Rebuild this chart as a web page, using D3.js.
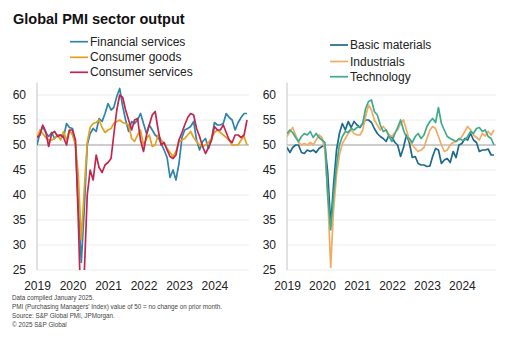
<!DOCTYPE html>
<html><head><meta charset="utf-8">
<script src="https://cdn.jsdelivr.net/npm/d3@7"></script>
<style>body{margin:0;background:#fff;} svg{display:block;font-family:"Liberation Sans",Arial,sans-serif;}</style>
</head><body>
<svg id="c" width="513" height="355"></svg>
<script>
const years = ["2019","2020","2021","2022","2023","2024"];
const yTicks = [25,30,35,40,45,50,55,60];

const financialServices = [
 50,52.5,53.7,52.5,51.7,52.5,51.3,52,52,51.5,54.3,53.5,
 53.3,50,38,26.5,37,50,52.3,53.3,52.7,55.3,54.7,56.3,
 58.3,57,57.5,59.7,61.3,57.7,55,52.7,54.7,54.3,55,56.3,
 54.3,52.3,54,53,52,51.5,50.3,49,47.5,43.5,45,43,
 46.3,51.5,53,53.3,53.7,54.7,51,49,50.7,51.3,49.3,51,
 54.5,54,54,54.3,56.3,55.5,55,53,54.5,55.5,56.3,56.3];
const consumerGoods = [
 51.5,53,52.3,51.5,51,51,51.3,52,51,52.7,51,53,
 52,50,44,31,41,50.5,53.5,54.3,54.5,55,53.5,52.5,
 53,53.3,54.3,54.7,55,54.5,54.3,54,51.3,50.7,52,53,
 50,51.3,52,49.7,50,52,51,50.3,49.3,48.5,47.7,48.7,
 50.7,51,51.3,52,52.7,51.5,50.7,50,49.7,50,50.5,51.3,
 52.5,53,52.5,52,51.5,51,50,50,50,51,51.7,50];
const consumerServices = [
 51.5,52,54,52.7,49.7,52.3,52.7,51.7,52,51.5,50,53,
 53,51,35,14,24,40,45,43,48,45.5,44.5,46,
 46.5,47.3,52,57,60,59.5,57,55,53,55,55.3,51,
 48.7,52,54,56,56.7,53,50,50.5,49,47.7,47.3,48,
 51,52.5,54,55.5,56.3,56,53.3,51.7,49.7,48.3,49.5,51,
 53.7,53,53,54,52.5,51,50.5,52,52,51.5,52,55];

const basicMaterials = [
 49.5,48.5,49.5,50,50,48.5,48.3,49,48.7,49,48.5,49.3,
 49.7,50,44.5,34,42,49,52.3,54.3,53,54.7,53.5,54.7,
 54,53.5,54.3,55,55,54.5,53.3,52.3,51.7,51.3,50.7,52,
 51.5,50.5,50,47.7,49.5,52,50.5,47.5,47.7,46.3,46,46,
 45.7,45.8,47.7,49.3,49,46.3,47,47.3,46.5,48.7,47.5,50,
 50.3,51.3,51,52.3,51,50.5,48.7,49,49,49.2,48,48];
const industrials = [
 51.7,52.7,53.5,52,50.5,50,50.3,50,50.5,50,51,52,
 51.5,49,40,25.5,37,44,48,50.3,51.3,52.3,53,52.3,
 52,52,53,55.7,58,57,55,54,53,53.7,53,52,
 51.7,52.5,53,54.3,55,53,51,50,49.3,48.7,49,49.5,
 51.3,53,53.7,53.3,51.7,50,48.7,49,50,50.5,50.7,51,
 51.7,52.7,53.7,53,52,51.5,51,52.3,51.8,52.7,52,53];
const technology = [
 52.3,53,52.5,51.5,50.7,51.7,52.3,52,52.7,51.5,52.3,51.5,
 51,50.5,40,33,40,46,50,51.7,52.7,52.5,53.3,53,
 53.5,53.7,54.3,57.3,58.7,59,56.7,56,54,52.7,53,51.7,
 50.7,52.3,53.5,55,53,51.5,51.3,50.5,51.7,52.3,51.3,52,
 53.7,54.7,55.3,54.5,57.5,54.3,53,51.7,51.3,51,50.7,51.3,
 51,51,51.7,52.7,52.3,53.3,53.5,52.7,53,51.7,51.3,50];

const leftSeries = [
  {name:"Financial services", values:financialServices, color:"#2e84ad"},
  {name:"Consumer goods", values:consumerGoods, color:"#e3a021"},
  {name:"Consumer services", values:consumerServices, color:"#c2264f"}];
const rightSeries = [
  {name:"Basic materials", values:basicMaterials, color:"#1d6a8c"},
  {name:"Industrials", values:industrials, color:"#f1ac62"},
  {name:"Technology", values:technology, color:"#3fab8c"}];

const svg = d3.select("#c");
svg.append("text").attr("x",13).attr("y",24)
  .style("font-weight","bold").style("font-size","14.5px").attr("fill","#111")
  .text("Global PMI sector output");

const dateOf = i => new Date(+years[0], i, 1);

function panel(series, x0, x1, legX, legY, id) {
  const n = series[0].values.length;
  const x = d3.scaleTime().domain([dateOf(0), dateOf(n-1)]).range([x0, x1]);
  const y = d3.scaleLinear().domain([25, 62.5]).range([270, 82.5]);
  const g = svg.append("g");
  g.selectAll("line.grid").data(yTicks).join("line")
    .attr("x1", x0).attr("x2", x1 + 2)
    .attr("y1", d => y(d)).attr("y2", d => y(d))
    .attr("stroke", d => d === 50 ? "#9a9a9a" : "#ececec").attr("stroke-width", 1);
  g.append("line").attr("x1", x0).attr("x2", x0).attr("y1", y(62.5)).attr("y2", y(25))
    .attr("stroke", "#c4c4c4");
  const ya = g.append("g").attr("transform", `translate(${x0},0)`)
    .call(d3.axisLeft(y).tickValues(yTicks).tickSize(0).tickPadding(11));
  ya.select(".domain").remove();
  ya.selectAll("text").style("font-size","12px").attr("fill","#222").style("font-family","'Liberation Sans',Arial,sans-serif");
  const xa = g.append("g").attr("transform", `translate(0,270)`)
    .call(d3.axisBottom(x).tickValues(years.map(yr => new Date(+yr,0,1)))
      .tickFormat(d3.timeFormat("%Y")).tickSize(0).tickPadding(11.5));
  xa.select(".domain").remove();
  xa.selectAll("text").style("font-size","12px").attr("fill","#222").style("font-family","'Liberation Sans',Arial,sans-serif");
  svg.append("clipPath").attr("id", id).append("rect")
    .attr("x", x0).attr("y", 75).attr("width", x1 - x0 + 4).attr("height", 270 - 75);
  const line = d3.line().x((d,i) => x(dateOf(i))).y(d => y(d));
  const lg = g.append("g").attr("clip-path", `url(#${id})`);
  series.forEach(s => {
    lg.append("path").attr("d", line(s.values)).attr("fill","none")
      .attr("stroke", s.color).attr("stroke-width", 1.7).attr("stroke-linejoin","round");
  });
  series.forEach((s, k) => {
    const yy = legY[k];
    g.append("line").attr("x1", legX).attr("x2", legX + 18).attr("y1", yy).attr("y2", yy)
      .attr("stroke", s.color).attr("stroke-width", 1.7);
    g.append("text").attr("x", legX + 20).attr("y", yy + 4).style("font-size","12px")
      .attr("fill","#222").text(s.name);
  });
}

panel(leftSeries, 37, 247, 70, [41.7, 57.3, 72.3], "clipL");
panel(rightSeries, 287, 494, 330, [45, 61.5, 76.7], "clipR");

const notes = ["Data compiled January 2025.",
  "PMI (Purchasing Managers' Index) value of 50 = no change on prior month.",
  "Source: S&P Global PMI, JPMorgan.",
  "\u00a9 2025 S&P Global"];
svg.selectAll("text.note").data(notes).join("text").attr("class","note")
  .attr("x", 12).attr("y", (d,i) => 299.5 + i*9)
  .style("font-size","6.3px").attr("fill","#444").text(d => d);
</script>
</body></html>
